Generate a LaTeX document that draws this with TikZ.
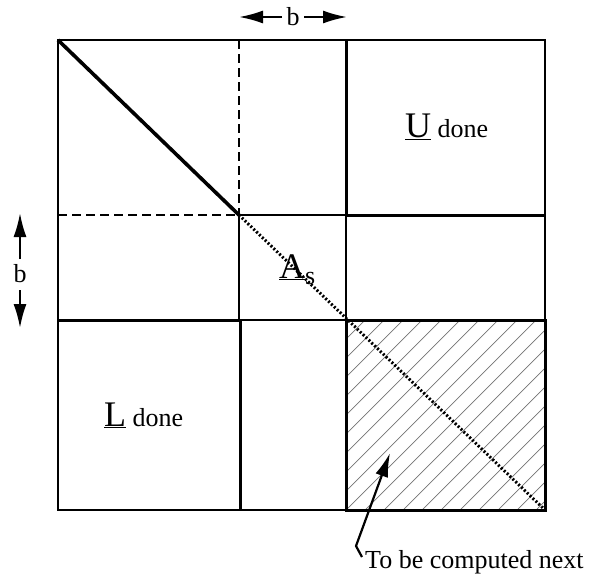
\documentclass[tikz,border=0pt]{standalone}
\usepackage{fontspec}
\setmainfont{Liberation Serif}
\usetikzlibrary{arrows.meta}
\begin{document}
\begin{tikzpicture}[x=1pt,y=-1pt,
  thinline/.style={line width=1.6pt},
  thickline/.style={line width=3pt},
  dashline/.style={line width=1.6pt,dash pattern=on 9pt off 5pt},
  dotline/.style={line width=3pt,dash pattern=on 2pt off 2pt},
  hatch/.style={line width=0.7pt,black!55},
  arr/.style={line width=2.2pt,-{Latex[length=24pt,width=13pt]}},
  lbl/.style={inner sep=0pt,font=\fontsize{26}{30}\selectfont}]
\useasboundingbox (0,0) rectangle (590,582);
% grid coordinates
\coordinate (tl) at (58,40);
\coordinate (br) at (545,510);
\coordinate (c1) at (239,215);
\coordinate (c2) at (346,320);
% hatched block
\begin{scope}
  \clip (346,320) rectangle (545,510);
  \foreach \k in {0,19,...,420} {
    \draw[hatch] (346+\k-200,520) -- (346+\k+10,310);
  }
\end{scope}
% outer box
\draw[thinline] (tl) rectangle (br);
% dashed parts
\draw[dashline] (239,40) -- (c1);
\draw[dashline] (58,215) -- (c1);
% thin inner lines
\draw[thinline] (c1) -- (346,215);
\draw[thinline] (c1) -- (239,320);
\draw[thinline] (239,320) -- (346,320);
% thick lines
\draw[thickline] (346,40) -- (346,215);
\draw[thickline] (346,215) -- (545,215);
\draw[thickline] (58,320) -- (240,320);
\draw[thickline] (240,320) -- (240,510);
\draw[thickline] (346,320) rectangle (545,510);
\draw[thinline] (346,215) -- (346,320);
% diagonal
\draw[line width=3.6pt] (tl) -- (c1);
\draw[dotline] (c1) -- (br);
% labels
\node[lbl,anchor=base west] (U) at (405,137) {{\fontsize{36}{40}\selectfont\underline{U}} done};
\node[lbl,anchor=base west] (L) at (104,426) {{\fontsize{36}{40}\selectfont\underline{L}} done};
\node[lbl,anchor=base west] (As) at (279,278) {{\fontsize{36}{40}\selectfont\underline{A}}\raisebox{-6pt}{s}};
% b dimension arrows
\node[lbl] (bt) at (293,17) {b};
\coordinate (btl) at (282,17);
\coordinate (btr) at (304,17);
\draw[arr] (btl) -- (239,17);
\draw[arr] (btr) -- (347,17);
\node[lbl] (bl) at (20,274) {b};
\coordinate (blt) at (20,259);
\coordinate (blb) at (20,290);
\draw[arr] (blt) -- (20,213);
\draw[arr] (blb) -- (20,328);
% pointer
\node[lbl,anchor=base west] (next) at (365,568) {To be computed next};
\coordinate (hook) at (362,557);
\coordinate (tip) at (390,453);
\draw[arr] (hook) -- (356,546) -- (tip);
\end{tikzpicture}
\end{document}
